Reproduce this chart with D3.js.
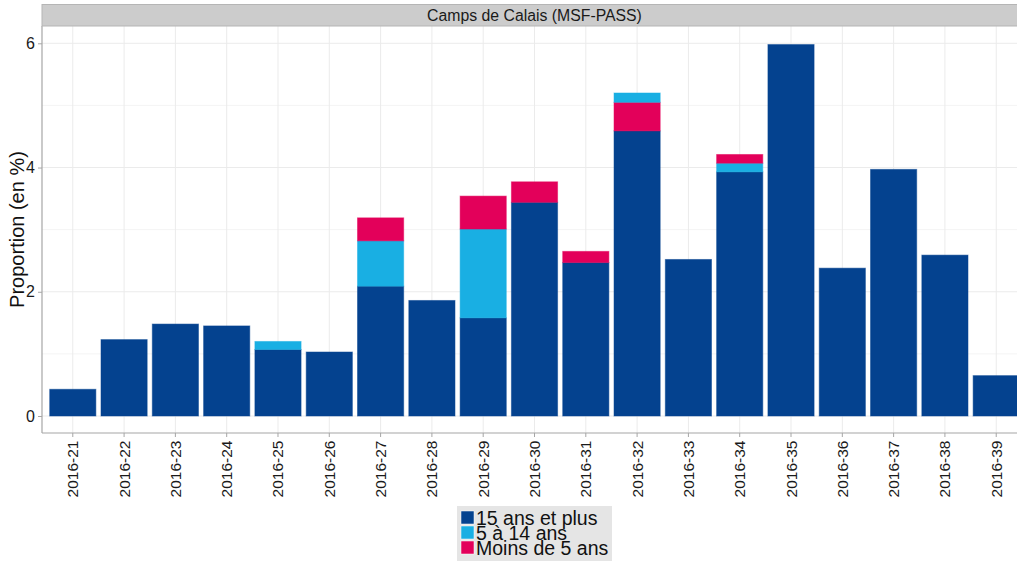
<!DOCTYPE html>
<html><head><meta charset="utf-8">
<script src="https://cdn.jsdelivr.net/npm/d3@7"></script>
<style>body{margin:0;background:#fff}svg{display:block;font-family:"Liberation Sans",Arial,sans-serif}</style>
</head><body><svg id="c" width="1017" height="565"></svg>
<script>
const weeks = ["2016-21","2016-22","2016-23","2016-24","2016-25","2016-26","2016-27","2016-28","2016-29","2016-30","2016-31","2016-32","2016-33","2016-34","2016-35","2016-36","2016-37","2016-38","2016-39"];
const adults   = [0.43,1.23,1.48,1.45,1.07,1.03,2.09,1.86,1.58,3.44,2.47,4.59,2.52,3.93,5.98,2.38,3.97,2.59,0.65];
const children = [0,0,0,0,0.13,0,0.73,0,1.43,0,0,0.15,0,0.14,0,0,0,0,0];
const infants  = [0,0,0,0,0,0,0.37,0,0.53,0.33,0.18,0.46,0,0.14,0,0,0,0,0];
const seriesNames = ["15 ans et plus","5 à 14 ans","Moins de 5 ans"];
const seriesColors = ["#04428f","#19afe3","#e3005a"];
const yTicks = [0,2,4,6];
const yMinor = [1,3,5];
const stackOrderOverride = {"2016-32":[0,2,1]};
const title = "Camps de Calais (MSF-PASS)";
const yLabel = "Proportion (en %)";

const svg = d3.select("#c");
const L = 42, T = 26, B = 433, R = 1027;
const values = [adults, children, infants];

// ggplot discrete expansion: 0.6 unit each side
const step = (R - L) / (weeks.length - 1 + 1.2);
const x = d3.scaleBand().domain(weeks)
  .range([L + 0.6*step - step/2, R - 0.6*step + step/2]).paddingInner(0.1).paddingOuter(0.05);
const y = d3.scaleLinear().domain([0, 6]).range([416, 43.3]);

const g = svg.append("g");
g.append("defs").append("clipPath").attr("id","pc").append("rect").attr("x",L).attr("y",T).attr("width",R-L).attr("height",B-T);
const panel = g.append("g").attr("clip-path","url(#pc)");
panel.append("rect").attr("x",L).attr("y",T).attr("width",R-L).attr("height",B-T).attr("fill","#fff");
yMinor.forEach(v=>panel.append("line").attr("x1",L).attr("x2",R).attr("y1",y(v)).attr("y2",y(v)).attr("stroke","#f4f4f4").attr("stroke-width",1));
yTicks.forEach(v=>panel.append("line").attr("x1",L).attr("x2",R).attr("y1",y(v)).attr("y2",y(v)).attr("stroke","#ebebeb").attr("stroke-width",1));
weeks.forEach(w=>{const cx=x(w)+x.bandwidth()/2;panel.append("line").attr("x1",cx).attr("x2",cx).attr("y1",T).attr("y2",B).attr("stroke","#ebebeb").attr("stroke-width",1);});

weeks.forEach((w,i)=>{
  const order = stackOrderOverride[w] || [0,1,2];
  let base = 0;
  order.forEach(s=>{
    const v = values[s][i];
    if (v <= 0) return;
    panel.append("rect").attr("x",x(w)).attr("width",x.bandwidth())
      .attr("y",y(base+v)).attr("height",y(base)-y(base+v))
      .attr("fill",seriesColors[s]).attr("stroke",seriesColors[s]).attr("stroke-opacity",0.5).attr("stroke-width",1);
    base += v;
  });
});

// axis lines
g.append("line").attr("x1",L).attr("x2",L).attr("y1",T).attr("y2",B).attr("stroke","#a6a6a6").attr("stroke-width",1.2);
g.append("line").attr("x1",L).attr("x2",R).attr("y1",B).attr("y2",B).attr("stroke","#a6a6a6").attr("stroke-width",1.2);

// y axis
const ya = g.append("g").attr("transform",`translate(${L},0)`).call(d3.axisLeft(y).tickValues(yTicks).tickSize(4).tickPadding(3).tickFormat(d3.format("d")));
ya.select(".domain").remove();
ya.selectAll("line").attr("stroke","#a6a6a6");
ya.selectAll("text").attr("font-size",16).attr("fill","#1a1a1a").attr("font-family","Liberation Sans, Arial, sans-serif");

// x axis
const xa = g.append("g").attr("transform",`translate(0,${B})`).call(d3.axisBottom(x).tickSize(4).tickPadding(0));
xa.select(".domain").remove();
xa.selectAll("line").attr("stroke","#a6a6a6");
xa.selectAll("text").attr("font-size",15.5).attr("fill","#1a1a1a").attr("font-family","Liberation Sans, Arial, sans-serif")
  .attr("text-anchor","end").attr("dy",null).attr("y",0)
  .attr("transform","translate(5.5,7.5) rotate(-90)");

// strip
g.append("rect").attr("x",L).attr("y",4.5).attr("width",R-L).attr("height",T-4.5).attr("fill","#cccccc").attr("stroke","#b5b5b5").attr("stroke-width",1);
g.append("text").attr("x",(L+R)/2).attr("y",21).attr("text-anchor","middle").attr("font-size",15.8).attr("fill","#1a1a1a").text(title);

// y label
g.append("text").attr("transform",`translate(24,${(T+B)/2}) rotate(-90)`).attr("text-anchor","middle").attr("font-size",20).attr("fill","#111").text(yLabel);

// legend
const lg = g.append("g");
lg.append("rect").attr("x",457).attr("y",506).attr("width",155).attr("height",55).attr("fill","#e5e5e5");
seriesNames.forEach((n,i)=>{
  const yy = 511 + i*15;
  lg.append("rect").attr("x",461).attr("y",yy).attr("width",13).attr("height",13).attr("fill",seriesColors[i]).attr("stroke","#fff").attr("stroke-width",0.5);
  lg.append("text").attr("x",476).attr("y",yy+14).attr("font-size",19.5).attr("fill","#111").text(n);
});
</script></body></html>
